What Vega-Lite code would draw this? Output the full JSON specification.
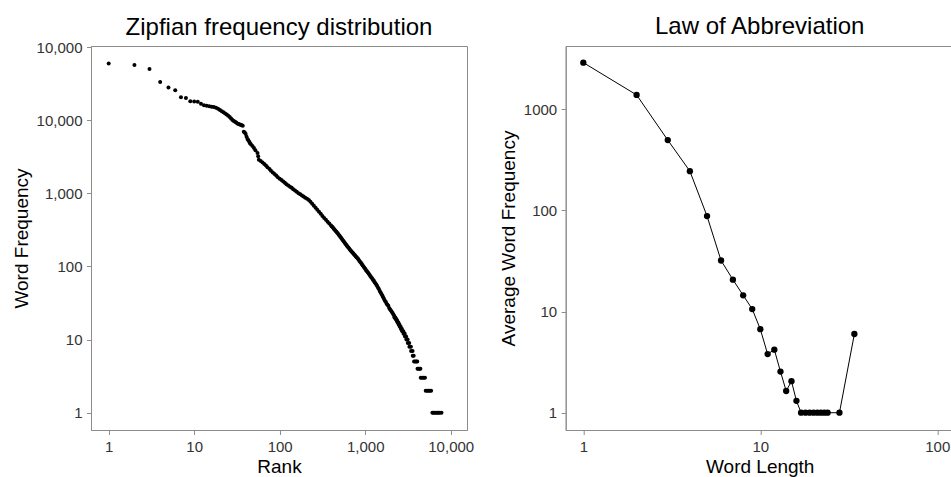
{
  "$schema": "https://vega.github.io/schema/vega-lite/v6.json",
  "padding": {"left": 11, "top": 14, "right": 0, "bottom": 0},
  "spacing": 98.7,
  "bounds": "flush",
  "config": {
    "font": "Liberation Sans",
    "view": {"stroke": "#8c8c8c", "strokeWidth": 1},
    "axis": {
      "labelFont": "Liberation Sans", "labelFontSize": 15, "labelColor": "#333333",
      "titleFont": "Liberation Sans", "titleFontSize": 19, "titleFontWeight": "normal", "titleColor": "#000000",
      "domainColor": "#8c8c8c", "tickColor": "#8c8c8c", "tickSize": 4.5, "grid": false,
      "labelPadding": 4.5, "titlePadding": 5
    },
    "axisX": {"titlePadding": 3},
    "title": {"font": "Liberation Sans", "fontSize": 24, "fontWeight": "normal", "color": "#000000", "anchor": "middle"}
  },
  "datasets": {
    "zipf": [
      {"rank": 1, "freq": 59300}, {"rank": 2, "freq": 56800}, {"rank": 3, "freq": 50000}, {"rank": 4, "freq": 33300},
      {"rank": 5, "freq": 27900}, {"rank": 6, "freq": 25600}, {"rank": 7, "freq": 20500}, {"rank": 8, "freq": 20100},
      {"rank": 9, "freq": 18100}, {"rank": 10, "freq": 18000}, {"rank": 11, "freq": 17800}, {"rank": 12, "freq": 16700},
      {"rank": 13, "freq": 16000}, {"rank": 14, "freq": 15700}, {"rank": 15, "freq": 15500}, {"rank": 16, "freq": 15300},
      {"rank": 17, "freq": 15100}, {"rank": 18, "freq": 14800}, {"rank": 19, "freq": 14300}, {"rank": 20, "freq": 13800},
      {"rank": 21, "freq": 13200}, {"rank": 22, "freq": 12800}, {"rank": 23, "freq": 12300}, {"rank": 24, "freq": 11970},
      {"rank": 25, "freq": 11500}, {"rank": 26, "freq": 11000}, {"rank": 27, "freq": 10500}, {"rank": 28, "freq": 10050},
      {"rank": 29, "freq": 9750}, {"rank": 30, "freq": 9480}, {"rank": 31, "freq": 9250}, {"rank": 32, "freq": 9020},
      {"rank": 33, "freq": 8870}, {"rank": 34, "freq": 8750}, {"rank": 35, "freq": 8630}, {"rank": 36, "freq": 8530},
      {"rank": 37, "freq": 8410}, {"rank": 38, "freq": 6950}, {"rank": 39, "freq": 6800}, {"rank": 40, "freq": 6450},
      {"rank": 41, "freq": 5940}, {"rank": 42, "freq": 5510}, {"rank": 43, "freq": 5300}, {"rank": 44, "freq": 5080},
      {"rank": 45, "freq": 4850}, {"rank": 46, "freq": 4670}, {"rank": 48, "freq": 4426}, {"rank": 50, "freq": 4169},
      {"rank": 52, "freq": 3873}, {"rank": 55, "freq": 3556}, {"rank": 56, "freq": 3199}, {"rank": 57, "freq": 2884},
      {"rank": 60, "freq": 2754}, {"rank": 63, "freq": 2630}, {"rank": 66, "freq": 2512}, {"rank": 69, "freq": 2393},
      {"rank": 72, "freq": 2265}, {"rank": 76, "freq": 2143}, {"rank": 79, "freq": 2032}, {"rank": 83, "freq": 1928},
      {"rank": 87, "freq": 1832}, {"rank": 91, "freq": 1746}, {"rank": 95, "freq": 1663}, {"rank": 100, "freq": 1585},
      {"rank": 105, "freq": 1517}, {"rank": 110, "freq": 1452}, {"rank": 115, "freq": 1390}, {"rank": 120, "freq": 1334},
      {"rank": 126, "freq": 1282}, {"rank": 132, "freq": 1233}, {"rank": 138, "freq": 1186}, {"rank": 144, "freq": 1138},
      {"rank": 151, "freq": 1091}, {"rank": 158, "freq": 1047}, {"rank": 166, "freq": 1005}, {"rank": 174, "freq": 968},
      {"rank": 182, "freq": 935}, {"rank": 190, "freq": 902}, {"rank": 199, "freq": 869}, {"rank": 209, "freq": 839},
      {"rank": 219, "freq": 809}, {"rank": 229, "freq": 764}, {"rank": 240, "freq": 719}, {"rank": 251, "freq": 676},
      {"rank": 263, "freq": 634}, {"rank": 275, "freq": 594}, {"rank": 288, "freq": 557}, {"rank": 302, "freq": 524},
      {"rank": 316, "freq": 491}, {"rank": 331, "freq": 461}, {"rank": 347, "freq": 434}, {"rank": 363, "freq": 409},
      {"rank": 380, "freq": 385}, {"rank": 398, "freq": 363}, {"rank": 407, "freq": 352}, {"rank": 417, "freq": 342},
      {"rank": 427, "freq": 331}, {"rank": 436, "freq": 320}, {"rank": 447, "freq": 310}, {"rank": 457, "freq": 300},
      {"rank": 468, "freq": 290}, {"rank": 479, "freq": 281}, {"rank": 490, "freq": 271}, {"rank": 501, "freq": 262},
      {"rank": 513, "freq": 253}, {"rank": 525, "freq": 244}, {"rank": 537, "freq": 235}, {"rank": 550, "freq": 227},
      {"rank": 562, "freq": 219}, {"rank": 575, "freq": 211}, {"rank": 589, "freq": 203}, {"rank": 603, "freq": 196},
      {"rank": 617, "freq": 189}, {"rank": 631, "freq": 183}, {"rank": 646, "freq": 177}, {"rank": 661, "freq": 171},
      {"rank": 676, "freq": 165}, {"rank": 692, "freq": 160}, {"rank": 708, "freq": 155}, {"rank": 724, "freq": 151},
      {"rank": 741, "freq": 146}, {"rank": 759, "freq": 142}, {"rank": 776, "freq": 137}, {"rank": 794, "freq": 133},
      {"rank": 813, "freq": 129}, {"rank": 832, "freq": 125}, {"rank": 851, "freq": 120}, {"rank": 871, "freq": 116},
      {"rank": 891, "freq": 112}, {"rank": 912, "freq": 108}, {"rank": 933, "freq": 104}, {"rank": 955, "freq": 100},
      {"rank": 977, "freq": 96}, {"rank": 1000, "freq": 93}, {"rank": 1023, "freq": 89}, {"rank": 1047, "freq": 86},
      {"rank": 1072, "freq": 83}, {"rank": 1096, "freq": 80}, {"rank": 1122, "freq": 77}, {"rank": 1148, "freq": 74},
      {"rank": 1175, "freq": 71}, {"rank": 1202, "freq": 69}, {"rank": 1230, "freq": 66}, {"rank": 1259, "freq": 64},
      {"rank": 1288, "freq": 61}, {"rank": 1318, "freq": 59}, {"rank": 1349, "freq": 56}, {"rank": 1380, "freq": 54},
      {"rank": 1413, "freq": 51}, {"rank": 1445, "freq": 49}, {"rank": 1479, "freq": 46}, {"rank": 1514, "freq": 44},
      {"rank": 1549, "freq": 42}, {"rank": 1585, "freq": 40}, {"rank": 1622, "freq": 38}, {"rank": 1660, "freq": 36},
      {"rank": 1698, "freq": 34}, {"rank": 1738, "freq": 33}, {"rank": 1778, "freq": 31}, {"rank": 1820, "freq": 30},
      {"rank": 1862, "freq": 29}, {"rank": 1905, "freq": 27}, {"rank": 1950, "freq": 26}, {"rank": 1995, "freq": 25},
      {"rank": 2042, "freq": 24}, {"rank": 2089, "freq": 23}, {"rank": 2138, "freq": 22}, {"rank": 2188, "freq": 21},
      {"rank": 2200, "freq": 20}, {"rank": 2250, "freq": 20}, {"rank": 2280, "freq": 19}, {"rank": 2320, "freq": 19},
      {"rank": 2340, "freq": 18}, {"rank": 2380, "freq": 18}, {"rank": 2400, "freq": 17}, {"rank": 2450, "freq": 17},
      {"rank": 2470, "freq": 16}, {"rank": 2520, "freq": 16}, {"rank": 2540, "freq": 15}, {"rank": 2600, "freq": 15},
      {"rank": 2620, "freq": 14}, {"rank": 2690, "freq": 14}, {"rank": 2710, "freq": 13}, {"rank": 2790, "freq": 13},
      {"rank": 2810, "freq": 12}, {"rank": 2900, "freq": 12}, {"rank": 2920, "freq": 11}, {"rank": 3010, "freq": 11},
      {"rank": 3030, "freq": 10}, {"rank": 3130, "freq": 10}, {"rank": 3150, "freq": 9}, {"rank": 3270, "freq": 9},
      {"rank": 3290, "freq": 8}, {"rank": 3420, "freq": 8}, {"rank": 3440, "freq": 7}, {"rank": 3580, "freq": 7},
      {"rank": 3600, "freq": 6}, {"rank": 3690, "freq": 6},
      {"rank": 3730, "freq": 5}, {"rank": 3840, "freq": 5}, {"rank": 3960, "freq": 5}, {"rank": 4060, "freq": 5},
      {"rank": 4090, "freq": 4}, {"rank": 4200, "freq": 4}, {"rank": 4320, "freq": 4}, {"rank": 4420, "freq": 4},
      {"rank": 4460, "freq": 3}, {"rank": 4620, "freq": 3}, {"rank": 4800, "freq": 3}, {"rank": 5000, "freq": 3},
      {"rank": 5100, "freq": 2}, {"rank": 5300, "freq": 2}, {"rank": 5500, "freq": 2}, {"rank": 5700, "freq": 2}, {"rank": 5900, "freq": 2},
      {"rank": 6100, "freq": 1}, {"rank": 6300, "freq": 1}, {"rank": 6520, "freq": 1}, {"rank": 6740, "freq": 1},
      {"rank": 6970, "freq": 1}, {"rank": 7200, "freq": 1}, {"rank": 7450, "freq": 1}, {"rank": 7800, "freq": 1}
    ],
    "abbrev": [
      {"length": 1, "avg": 2900}, {"length": 2, "avg": 1390}, {"length": 3, "avg": 497}, {"length": 4, "avg": 245},
      {"length": 5, "avg": 88}, {"length": 6, "avg": 32}, {"length": 7, "avg": 20.7}, {"length": 8, "avg": 14.5},
      {"length": 9, "avg": 10.6}, {"length": 10, "avg": 6.7}, {"length": 11, "avg": 3.8}, {"length": 12, "avg": 4.2},
      {"length": 13, "avg": 2.55}, {"length": 14, "avg": 1.64}, {"length": 15, "avg": 2.05}, {"length": 16, "avg": 1.31},
      {"length": 17, "avg": 1}, {"length": 18, "avg": 1}, {"length": 19, "avg": 1}, {"length": 20, "avg": 1},
      {"length": 21, "avg": 1}, {"length": 22, "avg": 1}, {"length": 23, "avg": 1}, {"length": 24, "avg": 1},
      {"length": 28, "avg": 1}, {"length": 34, "avg": 6}
    ]
  },
  "hconcat": [
    {
      "width": 376,
      "height": 384,
      "title": {"text": "Zipfian frequency distribution", "offset": 0},
      "data": {"name": "zipf"},
      "mark": {"type": "point", "filled": true, "color": "#000000", "opacity": 1, "size": 16},
      "encoding": {
        "x": {"field": "rank", "type": "quantitative", "title": "Rank",
          "scale": {"type": "log", "domain": [0.621, 15506], "nice": false, "zero": false},
          "axis": {"values": [1, 10, 100, 1000, 10000], "labelExpr": "format(datum.value, ',')"}},
        "y": {"field": "freq", "type": "quantitative", "title": "Word Frequency",
          "scale": {"type": "log", "domain": [0.5803, 103200], "nice": false, "zero": false},
          "axis": {"values": [1, 10, 100, 1000, 10000, 100000], "labelExpr": "datum.value >= 100000 ? '10,000' : format(datum.value, ',')"}}
      }
    },
    {
      "width": 388,
      "height": 384,
      "title": {"text": "Law of Abbreviation", "offset": 7},
      "data": {"name": "abbrev"},
      "encoding": {
        "x": {"field": "length", "type": "quantitative", "title": "Word Length",
          "scale": {"type": "log", "domain": [0.795, 123.8], "nice": false, "zero": false},
          "axis": {"values": [1, 10, 100], "labelExpr": "format(datum.value, 'd')"}},
        "y": {"field": "avg", "type": "quantitative", "title": "Average Word Frequency",
          "scale": {"type": "log", "domain": [0.6745, 4236], "nice": false, "zero": false},
          "axis": {"values": [1, 10, 100, 1000], "labelExpr": "format(datum.value, 'd')"}}
      },
      "layer": [
        {"mark": {"type": "line", "color": "#000000", "strokeWidth": 1}},
        {"mark": {"type": "point", "filled": true, "color": "#000000", "opacity": 1, "size": 40}}
      ]
    }
  ]
}
